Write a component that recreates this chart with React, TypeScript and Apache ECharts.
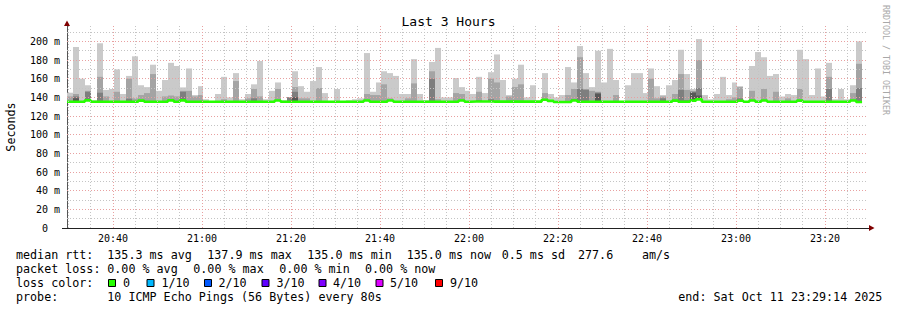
import React, { useEffect, useRef } from 'react';
import * as echarts from 'echarts';

const FONT = '"DejaVu Sans Mono", "Liberation Mono", monospace';

// ---- time frame ----
const startTime = '20:29:40';
const stepSeconds = 80;
const spanMinutes = 180;
const xTickLabels = ['20:40', '21:00', '21:20', '21:40', '22:00', '22:20', '22:40', '23:00', '23:20'];
const yTickValues = [0, 20, 40, 60, 80, 100, 120, 140, 160, 180, 200];
const yMax = 216.5;

// ---- data (ms) per 80 s step ----
const medianRtt = [
  135.3, 135.3, 135.3, 136.8, 135.3, 135.3, 135.3, 135.3, 135.3, 135.3,
  135.3, 135.3, 136.5, 135.3, 135.3, 135.3, 135.3, 136.8, 135.3, 136.8,
  135.3, 135.3, 135.3, 135.3, 135.3, 135.3, 135.3, 135.3, 135.3, 135.3,
  135.3, 135.3, 135.3, 135.3, 135.3, 136.6, 135.3, 135.3, 135.3, 135.3,
  135.3, 135.3, 135.3, 135.3, 135.3, 135.3, 135.3, 135.3, 135.3, 135.3,
  136.7, 135.3, 135.3, 135.3, 136.6, 135.3, 135.3, 135.3, 135.3, 135.3,
  135.3, 135.3, 135.3, 135.3, 135.3, 135.3, 136.6, 135.3, 135.6, 135.6,
  135.6, 135.5, 135.5, 135.5, 135.5, 135.5, 135.5, 135.5, 135.5, 135.5,
  137.5, 136.2, 135.0, 135.0, 135.0, 136.6, 135.3, 135.3, 135.3, 135.3,
  135.3, 135.3, 135.3, 135.3, 135.3, 135.3, 135.3, 135.3, 135.3, 135.3,
  135.3, 135.3, 136.5, 135.3, 135.3, 136.5, 137.9, 135.3, 135.3, 135.3,
  135.3, 135.3, 135.3, 136.4, 135.3, 136.6, 135.3, 136.6, 135.3, 135.3,
  135.3, 135.3, 135.3, 136.5, 135.3, 135.3, 135.3, 135.3, 135.3, 135.3,
  135.3, 135.3, 136.6, 135.0,
];
// highest ping (outer smoke)
const pingMax = [
  145, 194, 160, 153, 137, 198, 148, 149, 170, 143.6,
  163, 184, 153, 151, 175, 147, 158.6, 177, 173.6, 150.7,
  171, 142.5, 152, 138, 136, 143.6, 162, 140, 166, 138,
  143.6, 154, 179, 138, 147, 156, 137, 140, 168, 152,
  146, 157.5, 172.5, 144.6, 136, 149, 136, 137, 138, 139,
  187.5, 146, 156, 168, 166, 163, 143.6, 143.6, 181, 143.6,
  137, 178, 193, 140, 140, 160.7, 151, 147, 143.6, 162,
  144.6, 167, 186, 158.6, 142.5, 160, 175, 140, 153, 136,
  166, 143.6, 140, 142.5, 172.5, 156, 195, 166, 151, 190,
  156, 192, 158.6, 136, 153, 166, 166, 144.6, 171, 152,
  142.5, 153, 158.6, 191, 165, 149, 202.5, 142.5, 138, 143.6,
  162, 142.5, 156, 152, 136, 173.6, 188.6, 183, 163, 165,
  141, 143.6, 142.5, 191, 181, 142.5, 171, 141, 177, 138,
  149, 138, 153, 200,
];
// 9th of 10 pings
const ping9 = [
  141, 143.6, 135, 147, 135, 162, 141, 135, 146, 135,
  160, 139, 142.5, 144.6, 165, 135, 141, 142, 141, 147,
  147, 141, 142.5, 135, 135, 135, 138, 135, 157.5, 135,
  139, 149, 141, 135, 135, 149, 135, 140, 151, 139,
  139, 135, 150, 135, 135, 135, 135, 135, 135, 135,
  143.6, 142.5, 142.5, 154, 139, 135, 135, 139, 155, 135,
  135, 168, 138, 135, 135, 144.6, 143.6, 135, 135, 146,
  135, 160, 156, 135, 141, 151, 154, 135, 135, 135,
  144.6, 135, 135, 135, 142.5, 149, 183, 149, 147, 146,
  135, 135, 142.5, 135, 135, 135, 135, 135, 160, 139,
  141, 135, 143.6, 165, 148, 147, 180, 135, 135, 135,
  135, 138, 140, 151, 135, 147, 135, 149, 135, 146,
  135, 139, 135, 149, 135, 135, 135, 135, 162, 135,
  135, 135, 144.6, 176,
];
// 8th of 10 pings
const ping8 = [
  135, 141, 135, 146, 135, 145, 135, 135, 135, 135,
  138.6, 135, 135, 135, 135, 135, 135, 135, 135, 146,
  135, 135, 135, 135, 135, 135, 135, 135, 135, 135,
  135, 139, 135, 135, 135, 135, 135, 140, 146, 135,
  135, 135, 135, 135, 135, 135, 135, 135, 135, 135,
  135, 135, 135, 135, 135, 135, 135, 135, 135, 135,
  135, 160, 135, 135, 135, 135, 135, 135, 135, 137,
  135, 138, 135, 135, 135, 135, 135, 135, 135, 135,
  135, 135, 135, 135, 135, 138, 149, 148, 135, 145,
  135, 135, 135, 135, 135, 135, 135, 135, 135, 135,
  139, 135, 135, 148, 137, 146, 150, 135, 135, 135,
  135, 135, 135, 139, 135, 135, 135, 135, 135, 135,
  135, 135, 135, 135, 135, 135, 135, 135, 149, 135,
  135, 135, 135, 150,
];
// 7th of 10 pings
const ping7 = [
  135, 139, 135, 135, 135, 135, 135, 135, 135, 135,
  135, 135, 135, 135, 135, 135, 135, 135, 135, 135,
  135, 135, 135, 135, 135, 135, 135, 135, 135, 135,
  135, 135, 135, 135, 135, 135, 135, 135, 140, 135,
  135, 135, 135, 135, 135, 135, 135, 135, 135, 135,
  135, 135, 135, 135, 135, 135, 135, 135, 135, 135,
  135, 135, 135, 135, 135, 135, 135, 135, 135, 135,
  135, 135, 135, 135, 135, 135, 135, 135, 135, 135,
  135, 135, 135, 135, 135, 135, 135, 135, 135, 144,
  135, 135, 135, 135, 135, 135, 135, 135, 135, 135,
  135, 135, 135, 135, 135, 145, 142, 135, 135, 135,
  135, 135, 135, 135, 135, 135, 135, 135, 135, 135,
  135, 135, 135, 135, 135, 135, 135, 135, 135, 135,
  135, 135, 135, 135,
];

const smokeLayers = [
  { name: 'p10', values: pingMax, color: '#cacaca' },
  { name: 'p9', values: ping9, color: '#a4a4a4' },
  { name: 'p8', values: ping8, color: '#7e7e7e' },
  { name: 'p7', values: ping7, color: '#585858' },
];

const lossLegend = [
  { label: '0', color: '#26ff00', sq: 108, tx: 123 },
  { label: '1/10', color: '#00b8ff', sq: 146.5, tx: 161.5 },
  { label: '2/10', color: '#0059ff', sq: 204, tx: 218.5 },
  { label: '3/10', color: '#5e00ff', sq: 261.5, tx: 276.5 },
  { label: '4/10', color: '#7e00ff', sq: 318.5, tx: 333 },
  { label: '5/10', color: '#dd00ff', sq: 375.5, tx: 390 },
  { label: '9/10', color: '#ff0000', sq: 435, tx: 450 },
];

const statLines = [
  { y: 255, items: [[16, 'median rtt:'], [107.3, '135.3 ms avg'], [207.3, '137.9 ms max'], [307.3, '135.0 ms min'], [406.7, '135.0 ms now'], [501.7, '0.5 ms sd'], [578, '277.6'], [642, 'am/s']] },
  { y: 268.5, items: [[16, 'packet loss:'], [107.3, '0.00 % avg'], [193.3, '0.00 % max'], [279.3, '0.00 % min'], [365, '0.00 % now']] },
  { y: 282.5, items: [[16, 'loss color:']] },
  { y: 296.7, items: [[16, 'probe:'], [107.3, '10 ICMP Echo Pings (56 Bytes) every 80s'], [678.3, 'end: Sat Oct 11 23:29:14 2025']] },
];

function toMin(s: string): number {
  const p = s.split(':').map(Number);
  return p[0] * 60 + p[1] + (p[2] || 0) / 60;
}
function fmtMin(v: number): string {
  const m = Math.round(v);
  const h = Math.floor(m / 60);
  const mm = m % 60;
  return String(h).padStart(2, '0') + ':' + String(mm).padStart(2, '0');
}

const GRID = { left: 67, right: 29, top: 26, bottom: 82 };
const W = 897;
const H = 310;

export default function App() {
  const ref = useRef<HTMLDivElement>(null);
  useEffect(() => {
    if (!ref.current) return;
    const chart = echarts.init(ref.current, undefined, { renderer: 'svg' });
    const xMin = toMin(startTime);
    const xMax = xMin + spanMinutes;
    const step = stepSeconds / 60;
    const xTickValues = xTickLabels.map(toMin);

    const smokeSeries = smokeLayers.map((layer) => ({
      type: 'custom',
      name: layer.name,
      z: 2,
      silent: true,
      renderItem: (params: any, api: any) => {
        const p0 = api.coord([api.value(0), api.value(3)]);
        const p1 = api.coord([api.value(1), api.value(2)]);
        const x0 = Math.round(p0[0]);
        const x1 = Math.round(p1[0]);
        return {
          type: 'rect',
          shape: { x: x0, y: p0[1], width: x1 - x0, height: p1[1] - p0[1] },
          style: { fill: layer.color },
        };
      },
      encode: { x: [0, 1], y: [2, 3] },
      data: layer.values
        .map((v, i) => [xMin + i * step, xMin + (i + 1) * step, medianRtt[i], v])
        .filter((d) => d[3] > d[2]),
    }));

    const minorV: number[] = [];
    const majorV: number[] = [];
    for (let t = Math.ceil(xMin / 5) * 5; t <= xMax; t += 5) {
      if (xTickValues.some((x) => Math.abs(x - t) < 1e-6)) majorV.push(t);
      else minorV.push(t);
    }
    const minorH: number[] = [];
    for (let v = 10; v < yMax; v += 20) minorH.push(v);
    const majorH = yTickValues.filter((v) => v > 0);

    const gridSeries = (name: string, xs: number[], ys: number[], color: string) => ({
      type: 'line',
      name,
      z: 3,
      data: [],
      silent: true,
      markLine: {
        silent: true,
        symbol: ['none', 'none'],
        label: { show: false },
        animation: false,
        lineStyle: { color, width: 1, type: [1, 2] },
        data: [...ys.map((v) => ({ yAxis: v })), ...xs.map((v) => ({ xAxis: v }))],
      },
    });

    const medianData = medianRtt.map((v, i) => [xMin + i * step, v]);
    medianData.push([xMin + medianRtt.length * step, medianRtt[medianRtt.length - 1]]);

    const medianSeries = {
      type: 'line',
      name: 'median',
      z: 4,
      step: 'end',
      symbol: 'none',
      silent: true,
      lineStyle: { color: '#26ff00', width: 2.6 },
      data: medianData,
    };

    const gx0 = GRID.left;
    const gy0 = H - GRID.bottom;
    const gx1 = W - GRID.right;
    const gy1 = GRID.top;

    const graphic: any[] = [
      { type: 'polygon', shape: { points: [[gx0 - 3, gy1], [gx0 + 3, gy1], [gx0, gy1 - 5.5]] }, style: { fill: '#800000' }, z: 10 },
      { type: 'polygon', shape: { points: [[gx1 + 1, gy0 - 3], [gx1 + 1, gy0 + 3], [gx1 + 6.5, gy0]] }, style: { fill: '#800000' }, z: 10 },
      { type: 'line', shape: { x1: gx0 - 5, y1: gy0 + 0.5, x2: gx0, y2: gy0 + 0.5 }, style: { stroke: '#212121', lineWidth: 1 } },
      { type: 'line', shape: { x1: gx1, y1: gy0 + 0.5, x2: gx1 + 2, y2: gy0 + 0.5 }, style: { stroke: '#212121', lineWidth: 1 } },
      {
        type: 'text', x: 11, y: (gy0 + gy1) / 2, rotation: Math.PI / 2,
        style: { text: 'Seconds', fontFamily: FONT, fontSize: 11.7, fill: '#000', align: 'center', verticalAlign: 'middle' },
      },
      {
        type: 'text', x: 886, y: 5, rotation: -Math.PI / 2,
        style: { text: 'RRDTOOL / TOBI OETIKER', fontFamily: FONT, fontSize: 8.3, fill: '#a8a8a8', align: 'left', verticalAlign: 'middle' },
      },
    ];
    statLines.forEach((line) => {
      line.items.forEach(([x, t]) => {
        graphic.push({
          type: 'text', x: x as number, y: line.y,
          style: { text: t as string, fontFamily: FONT, fontSize: 11.7, fill: '#000', align: 'left', verticalAlign: 'middle' },
        });
      });
    });
    lossLegend.forEach((l) => {
      graphic.push({
        type: 'rect', shape: { x: l.sq + 0.5, y: 279.5, width: 7, height: 7 },
        style: { fill: l.color, stroke: '#000', lineWidth: 1 },
      });
      graphic.push({
        type: 'text', x: l.tx, y: 282.5,
        style: { text: l.label, fontFamily: FONT, fontSize: 11.7, fill: '#000', align: 'left', verticalAlign: 'middle' },
      });
    });

    const option: any = {
      animation: false,
      backgroundColor: '#ffffff',
      title: {
        text: 'Last 3 Hours',
        left: 'center',
        top: 10,
        textStyle: { fontFamily: FONT, fontSize: 13, fontWeight: 'normal', color: '#000' },
      },
      grid: { left: GRID.left, right: GRID.right, top: GRID.top, bottom: GRID.bottom, show: false },
      xAxis: {
        type: 'value',
        min: xMin,
        max: xMax,
        axisLine: { show: true, onZero: false, lineStyle: { color: '#212121', width: 1 } },
        axisTick: { show: false },
        splitLine: { show: false },
        axisLabel: {
          customValues: xTickValues,
          formatter: (v: number) => fmtMin(v),
          fontFamily: FONT,
          fontSize: 10,
          color: '#000',
          margin: 5,
        },
      },
      yAxis: {
        type: 'value',
        min: 0,
        max: yMax,
        interval: 20,
        axisLine: { show: true, lineStyle: { color: '#555555', width: 1 } },
        axisTick: { show: false },
        splitLine: { show: false },
        axisLabel: {
          showMaxLabel: false,
          formatter: (v: number) => (yTickValues.includes(v) ? (v === 0 ? '0\u00a0\u00a0' : v + ' m') : ''),
          fontFamily: FONT,
          fontSize: 10,
          color: '#000',
          margin: 7,
        },
      },
      series: [
        ...smokeSeries,
        gridSeries('minorGrid', minorV, minorH, '#c4c4c4'),
        gridSeries('majorGrid', majorV, majorH, '#e8a0a0'),
        medianSeries,
      ],
      graphic,
    };
    chart.setOption(option);
    return () => chart.dispose();
  }, []);
  return (
    <div
      ref={ref}
      style={{ position: 'fixed', left: 0, top: 0, width: W, height: H, background: '#fff' }}
    />
  );
}
